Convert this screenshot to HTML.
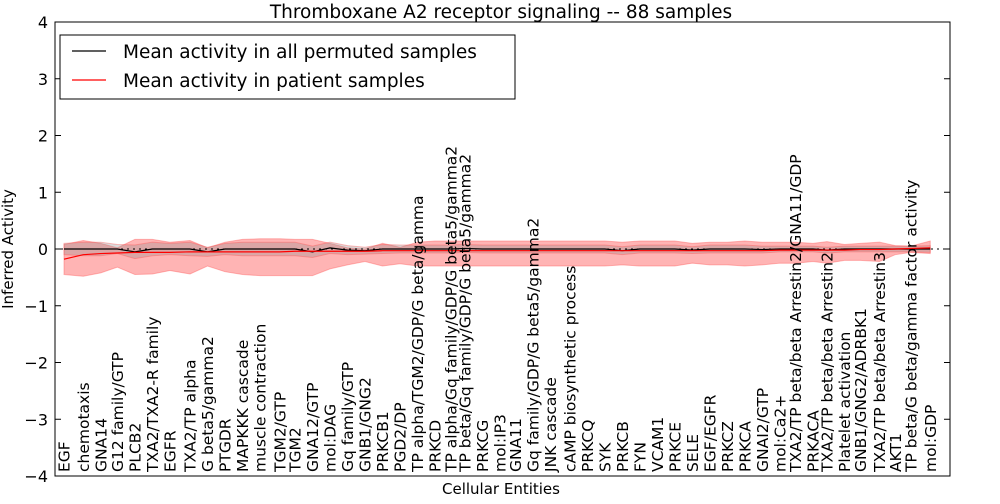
<!DOCTYPE html>
<html><head><meta charset="utf-8"><style>
body{margin:0;background:#fff;font-family:"DejaVu Sans","Liberation Sans",sans-serif}
svg text{font-family:"DejaVu Sans","Liberation Sans",sans-serif}
</style></head><body>
<svg id="chart" width="1000" height="500" xmlns="http://www.w3.org/2000/svg">
<rect width="1000" height="500" fill="#fff"/>
<text x="501" y="18" font-size="18.5" text-anchor="middle">Thromboxane A2 receptor signaling -- 88 samples</text>
<g id="marks"></g>
<g id="labels"></g>
<rect x="55" y="22" width="895" height="454" fill="none" stroke="#000" stroke-width="1"/>
<g id="yaxis"></g>
<text transform="translate(13,249) rotate(-90)" font-size="15" text-anchor="middle">Inferred Activity</text>
<text x="501" y="494" font-size="15" text-anchor="middle">Cellular Entities</text>
<g>
<rect x="60" y="35" width="455" height="64" fill="#fff" stroke="#000" stroke-width="1"/>
<line x1="72" y1="51" x2="106" y2="51" stroke="#000" stroke-width="1.2"/>
<text x="123" y="58" font-size="18.5">Mean activity in all permuted samples</text>
<line x1="72" y1="80" x2="106" y2="80" stroke="#f00" stroke-width="1.2"/>
<text x="123" y="87" font-size="18.5">Mean activity in patient samples</text>
</g>
</svg>
<script>
const yTicks=[-4,-3,-2,-1,0,1,2,3,4];
const labels=["EGF","chemotaxis","GNA14","G12 family/GTP","PLCB2","TXA2/TXA2-R family","EGFR","TXA2/TP alpha","G beta5/gamma2","PTGDR","MAPKKK cascade","muscle contraction","TGM2/GTP","TGM2","GNA12/GTP","mol:DAG","Gq family/GTP","GNB1/GNG2","PRKCB1","PGD2/DP","TP alpha/TGM2/GDP/G beta/gamma","PRKCD","TP alpha/Gq family/GDP/G beta5/gamma2","TP beta/Gq family/GDP/G beta5/gamma2","PRKCG","mol:IP3","GNA11","Gq family/GDP/G beta5/gamma2","JNK cascade","cAMP biosynthetic process","PRKCQ","SYK","PRKCB","FYN","VCAM1","PRKCE","SELE","EGF/EGFR","PRKCZ","PRKCA","GNAI2/GTP","mol:Ca2+","TXA2/TP beta/beta Arrestin2/GNA11/GDP","PRKACA","TXA2/TP beta/beta Arrestin2","Platelet activation","GNB1/GNG2/ADRBK1","TXA2/TP beta/beta Arrestin3","AKT1","TP beta/G beta/gamma factor activity","mol:GDP"];
const labelX=[0,1.1,2.1,3.05,4.05,5.05,6.05,7.2,8.2,9.2,10.2,11.2,12.35,13.2,14.2,15.2,16.2,17.2,18.2,19.2,20.2,21.2,22.1,22.9,23.9,24.9,25.8,26.8,27.8,28.9,29.9,30.9,31.9,32.9,33.9,34.9,35.9,36.9,37.9,38.9,39.9,40.9,41.8,42.8,43.6,44.6,45.5,46.6,47.5,48.4,49.5];
const meanVals=[0,0,0,0,-0.05,0,0,0,-0.05,0,0,0,0,0,-0.05,0.02,-0.02,-0.03,0,0,0,0,0,0.01,0,0,0,0,0,0,0,0,-0.03,0,0,0,-0.02,0,0,0,-0.01,0,0,0,-0.02,0,0,0,0,0,0];
const patVals=[-0.18,-0.1,-0.08,-0.07,-0.06,-0.06,-0.06,-0.05,-0.05,-0.05,-0.05,-0.05,-0.05,-0.04,-0.04,-0.04,-0.04,-0.04,-0.03,-0.03,-0.03,-0.03,-0.03,-0.03,-0.03,-0.03,-0.03,-0.03,-0.03,-0.03,-0.03,-0.03,-0.03,-0.03,-0.03,-0.03,-0.03,-0.03,-0.03,-0.03,-0.03,-0.02,-0.02,-0.02,-0.02,-0.02,-0.01,-0.01,0,0.01,0.02];
const patHi=[0.08,0.15,0.1,0.02,0.17,0.17,0.12,0.15,0.02,0.12,0.17,0.18,0.18,0.17,0.17,0.1,0.02,0.0,0.1,0.03,0.12,0.14,0.14,0.14,0.14,0.14,0.14,0.14,0.14,0.14,0.14,0.14,0.12,0.14,0.14,0.14,0.1,0.12,0.12,0.14,0.12,0.12,0.12,0.1,0.13,0.08,0.1,0.12,0.06,0.05,0.14];
const patLo=[-0.45,-0.48,-0.42,-0.32,-0.45,-0.44,-0.38,-0.44,-0.3,-0.4,-0.45,-0.47,-0.47,-0.47,-0.47,-0.35,-0.28,-0.22,-0.3,-0.26,-0.3,-0.3,-0.3,-0.3,-0.3,-0.3,-0.3,-0.3,-0.3,-0.3,-0.3,-0.3,-0.28,-0.3,-0.3,-0.3,-0.25,-0.28,-0.28,-0.3,-0.28,-0.25,-0.25,-0.22,-0.25,-0.2,-0.2,-0.22,-0.1,-0.06,-0.08];
const permSpread=[0.1,0.12,0.12,0.08,0.12,0.12,0.1,0.12,0.08,0.1,0.12,0.12,0.12,0.12,0.1,0.1,0.08,0.06,0.08,0.07,0.07,0.07,0.07,0.07,0.07,0.07,0.07,0.07,0.07,0.07,0.07,0.07,0.07,0.07,0.07,0.07,0.06,0.07,0.07,0.07,0.06,0.05,0.05,0.05,0.05,0.05,0.05,0.05,0.05,0.05,0.06];
const NS="http://www.w3.org/2000/svg";
const X=i=>64+i*17.5, Y=v=>249-v*56.75;
function mk(t,a,p){const e=document.createElementNS(NS,t);for(const k in a)e.setAttribute(k,a[k]);p.appendChild(e);return e;}
const marks=document.getElementById('marks');
function band(hi,lo,fill,op,name){
 let up=hi.map((v,i)=>X(labelX[i])+','+Y(v));
 let dn=lo.map((v,i)=>X(labelX[i])+','+Y(v)).reverse();
 const p=mk('polygon',{points:up.concat(dn).join(' '),fill:fill,'fill-opacity':op,stroke:'#f55','stroke-opacity':0.4},marks);
 
 
}
band(patHi,patLo,'#ff3b3b',0.38,'patient-band');
band(meanVals.map((v,i)=>v+permSpread[i]),meanVals.map((v,i)=>v-permSpread[i]),'#888',0.3,'permuted-band');
const zl=mk('line',{x1:55,x2:950,y1:Y(0),y2:Y(0),stroke:'#000','stroke-dasharray':'2,4','stroke-width':1},marks);


function line(v,col,name){
 const p=mk('polyline',{points:v.map((d,i)=>X(labelX[i])+','+Y(d)).join(' '),fill:'none',stroke:col,'stroke-width':1.2},marks);
 
 
}
line(meanVals,'#000','permuted-mean-line');
line(patVals,'#f00','patient-mean-line');
const lg=document.getElementById('labels');
labels.forEach((l,i)=>{
 const t=mk('text',{transform:`translate(${X(labelX[i])+5.5},472) rotate(-90)`,'font-size':15.5},lg);
 t.textContent=l;
 
 
});
const ya=document.getElementById('yaxis');
yTicks.forEach(v=>{
 mk('line',{x1:55,x2:61,y1:Y(v),y2:Y(v),stroke:'#000'},ya);
 mk('line',{x1:944,x2:950,y1:Y(v),y2:Y(v),stroke:'#000'},ya);
 const t=mk('text',{x:48,y:Y(v)+6,'font-size':16,'text-anchor':'end'},ya);
 t.textContent=v===0?'0':(v<0?'\u2212'+(-v):String(v));
 
 
});
</script>
</body></html>
